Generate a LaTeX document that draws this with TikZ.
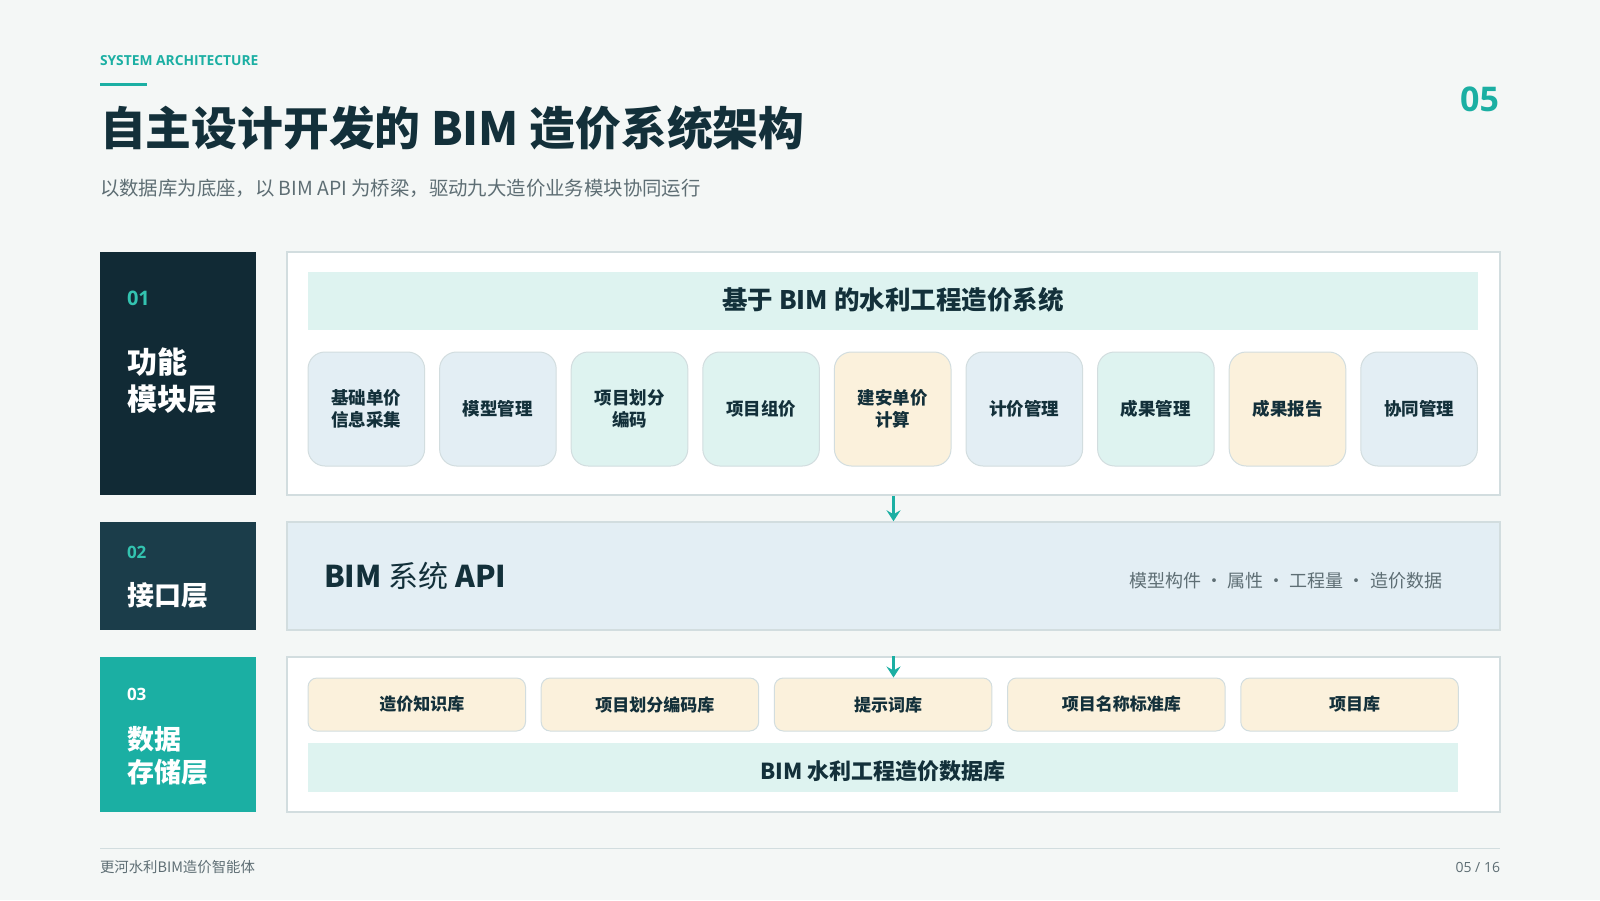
\documentclass[tikz,border=0pt]{standalone}
\usepackage{fontspec}
\setmainfont{Noto Sans CJK SC}
\newfontfamily\latinfont{Open Sans}
\usetikzlibrary{arrows.meta}
\definecolor{bgc}{HTML}{F4F7F6}
\definecolor{navyA}{HTML}{112A35}
\definecolor{navyB}{HTML}{1B3D4A}
\definecolor{tealc}{HTML}{1BAFA3}
\definecolor{tealtxt}{HTML}{33C3B0}
\definecolor{darktxt}{HTML}{13303A}
\definecolor{greytxt}{HTML}{5E6E74}
\definecolor{bordc}{HTML}{D2DDDF}
\definecolor{bluef}{HTML}{E3EEF4}
\definecolor{mintf}{HTML}{DEF3F0}
\definecolor{creamf}{HTML}{FBF1DC}
\newcommand\fsz[2]{\fontsize{#1}{#2}\selectfont}
\begin{document}
\begin{tikzpicture}[x=1pt,y=-1pt,
  txt/.style={inner sep=0pt, outer sep=0pt},
  layerbox/.style={draw=none, inner sep=0pt, minimum width=156pt},
  panel/.style={draw=bordc, line width=1.5pt, inner sep=0pt, minimum width=1213pt},
  modbox/.style={draw=bordc, line width=1pt, rounded corners=17pt, minimum width=116.6pt, minimum height=114pt, inner sep=0pt, align=center, text=darktxt, font=\fsz{17.5}{21.5}\bfseries},
  dbbox/.style={draw=bordc, line width=1pt, fill=creamf, rounded corners=9pt, minimum width=217.5pt, minimum height=53pt, inner sep=0pt, text=darktxt, font=\fsz{17}{20}\bfseries},
  band/.style={fill=mintf, draw=none, inner sep=0pt},
  flow/.style={draw=tealc, line width=2.6pt, -{Stealth[length=11pt,width=14pt,inset=4pt]}}
]
\fill[bgc] (0,0) rectangle (1600,900);
\useasboundingbox (0,0) rectangle (1600,900);

% header
\node[txt, anchor=west, text=tealc] (kicker) at (100,61) {\latinfont\fsz{13.8}{16}\bfseries SYSTEM ARCHITECTURE};
\fill[tealc] (100,82.5) rectangle (147,85.5);
\node[txt, anchor=west, text=darktxt] (title) at (100,128) {\fsz{45.8}{52}\bfseries 自主设计开发的 BIM 造价系统架构};
\node[txt, anchor=west, text=greytxt] (subtitle) at (100,188) {\fsz{19.4}{22}以数据库为底座，以 BIM API 为桥梁，驱动九大造价业务模块协同运行};
\node[txt, anchor=east, text=tealc] (pageno) at (1499,99) {\latinfont\fsz{34}{38}\bfseries 05};

% left layer boxes
\node[layerbox, fill=navyA, minimum height=243pt] (L1) at (178,373.5) {};
\node[layerbox, fill=navyB, minimum height=108pt] (L2) at (178,576) {};
\node[layerbox, fill=tealc, minimum height=155pt] (L3) at (178,734.5) {};

\node[txt, anchor=west, text=tealtxt] (L1n) at (127,298) {\latinfont\fsz{20}{24}\bfseries 01};
\node[txt, anchor=west, text=white, align=left, font=\fsz{30}{37}\bfseries] (L1t) at (127,381) {功能\\模块层};
\node[txt, anchor=west, text=tealtxt] (L2n) at (127,552) {\latinfont\fsz{17}{20}\bfseries 02};
\node[txt, anchor=west, text=white] (L2t) at (127,595) {\fsz{27}{30}\bfseries 接口层};
\node[txt, anchor=west, text=white] (L3n) at (127,694) {\latinfont\fsz{17}{20}\bfseries 03};
\node[txt, anchor=west, text=white, align=left, font=\fsz{27}{33}\bfseries] (L3t) at (127,756) {数据\\存储层};

% panels
\node[panel, fill=white, minimum height=243pt] (P1) at (893.5,373.5) {};
\node[panel, fill=bluef, minimum height=108pt] (P2) at (893.5,576) {};
\node[panel, fill=white, minimum height=155pt] (P3) at (893.5,734.5) {};

% panel 1 content
\node[band, minimum width=1170pt, minimum height=58pt] (H1) at (893,301) {};
\node[txt, text=darktxt] (H1t) at (893,300) {\fsz{25.5}{28}\bfseries 基于 BIM 的水利工程造价系统};

\foreach \i/\t/\c in {0/{基础单价\\信息采集}/bluef, 1/{模型管理}/bluef, 2/{项目划分\\编码}/mintf, 3/{项目组价}/mintf, 4/{建安单价\\计算}/creamf, 5/{计价管理}/bluef, 6/{成果管理}/mintf, 7/{成果报告}/creamf, 8/{协同管理}/bluef}{
  \node[modbox, fill=\c] (M\i) at ({366.3+131.6*\i},409) {\t};
}

% panel 2 content
\node[txt, anchor=west, text=darktxt] (apit) at (324,576) {\fsz{30}{33}\bfseries BIM \mdseries 系统 \bfseries API};
\node[txt, anchor=east, text=greytxt] (apis) at (1442,581) {\fsz{18}{21}模型构件 · 属性 · 工程量 · 造价数据};

% panel 3 content
\foreach \i/\t in {0/造价知识库, 1/项目划分编码库, 2/提示词库, 3/项目名称标准库, 4/项目库}{
  \node[dbbox, text width=217.5pt, align=center] (D\i) at ({416.75+233.2*\i},704.5) {\hspace*{10pt}\t};
}
\node[band, minimum width=1150pt, minimum height=49pt] (DB) at (883,767.5) {};
\node[txt, text=darktxt] (DBt) at (883,771) {\fsz{22}{25}\bfseries BIM 水利工程造价数据库};

% connectors
\draw[flow] (P1.south) -- (P2.north);
\draw[flow] (P3.north) -- (P3.north |- D2.north);

% footer
\draw[bordc, line width=1pt] (100,848) -- (1500,848);
\node[txt, anchor=west, text=greytxt] (foot) at (100,867) {\fsz{14.4}{16}更河水利BIM造价智能体};
\node[txt, anchor=east, text=greytxt] (footno) at (1500,867) {\latinfont\fsz{14}{16}05 / 16};
\end{tikzpicture}
\end{document}
